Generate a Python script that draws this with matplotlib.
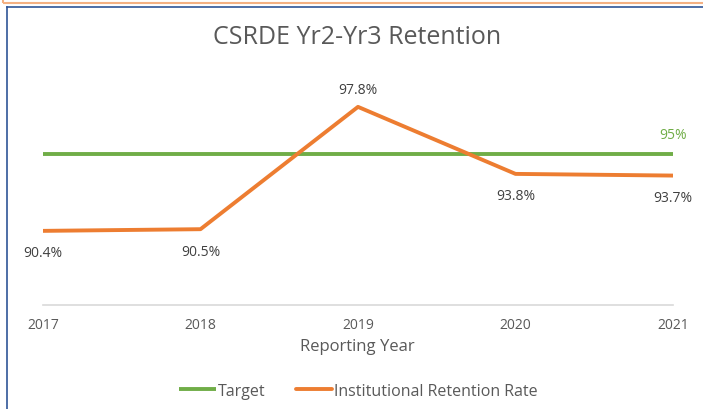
import matplotlib.pyplot as plt
from matplotlib.patches import Rectangle
from matplotlib.lines import Line2D

plt.rcParams['font.family'] = ['Open Sans', 'DejaVu Sans']

years = [2017, 2018, 2019, 2020, 2021]
retention = [90.4, 90.5, 97.8, 93.8, 93.7]
target = [95, 95, 95, 95, 95]
ret_labels = ['90.4%', '90.5%', '97.8%', '93.8%', '93.7%']

green = '#70AD47'
orange = '#ED7D31'
txt = '#595959'

fig = plt.figure(figsize=(7.03, 4.10), dpi=100)
ax = fig.add_axes([43 / 703, 1 - 305.6 / 410, 630 / 703, (305.6 - 71) / 410])

# frame bits from the screenshot
fig.patches.append(Rectangle((3 / 703, 1 - 4 / 410), 1, 0.05, transform=fig.transFigure,
                             fill=False, edgecolor='#F4B183', lw=1.5))
fig.add_artist(Line2D([7.5 / 703, 7.5 / 703], [0, 1 - 7.5 / 410], transform=fig.transFigure,
                      color='#2F5597', lw=1.2))
fig.add_artist(Line2D([7.5 / 703, 1], [1 - 7.5 / 410, 1 - 7.5 / 410], transform=fig.transFigure,
                      color='#2F5597', lw=1.2))

ax.plot(years, target, color=green, lw=2.8, solid_capstyle='butt', label='Target')
ax.plot(years, retention, color=orange, lw=2.8, solid_capstyle='round', label='Institutional Retention Rate')

ax.set_xlim(2017, 2021)
ax.set_ylim(86, 100)
ax.set_yticks([])
ax.set_xticks(years)
ax.set_xticklabels([str(y) for y in years], fontsize=10, color=txt)
ax.tick_params(axis='x', length=0, pad=9)
for s in ['top', 'right', 'left']:
    ax.spines[s].set_visible(False)
ax.spines['bottom'].set_color('#D9D9D9')
ax.spines['bottom'].set_linewidth(1.2)

for x, y, lab in zip(years, retention, ret_labels):
    if lab == '97.8%':
        ax.annotate(lab, (x, y), xytext=(0, 7), textcoords='offset points', ha='center', va='bottom',
                    fontsize=10, color='#404040')
    else:
        ax.annotate(lab, (x, y), xytext=(0, -10.5), textcoords='offset points', ha='center', va='top',
                    fontsize=10, color='#404040')
ax.annotate('95%', (years[-1], target[-1]), xytext=(0, 8.5), textcoords='offset points', ha='center',
            va='bottom', fontsize=10, color=green)

fig.text(0.508, 1 - 38 / 410, 'CSRDE Yr2-Yr3 Retention', ha='center', va='center', fontsize=18, color=txt)
fig.text(0.508, 1 - 347 / 410, 'Reporting Year', ha='center', va='center', fontsize=12, color=txt)

fig.legend(loc='center', bbox_to_anchor=(0.51, 1 - 392 / 410), ncol=2, frameon=False, fontsize=11.5,
           labelcolor=txt, handlelength=2.3, handletextpad=0.1, columnspacing=1.9)

fig.savefig('out.png', dpi=100)
